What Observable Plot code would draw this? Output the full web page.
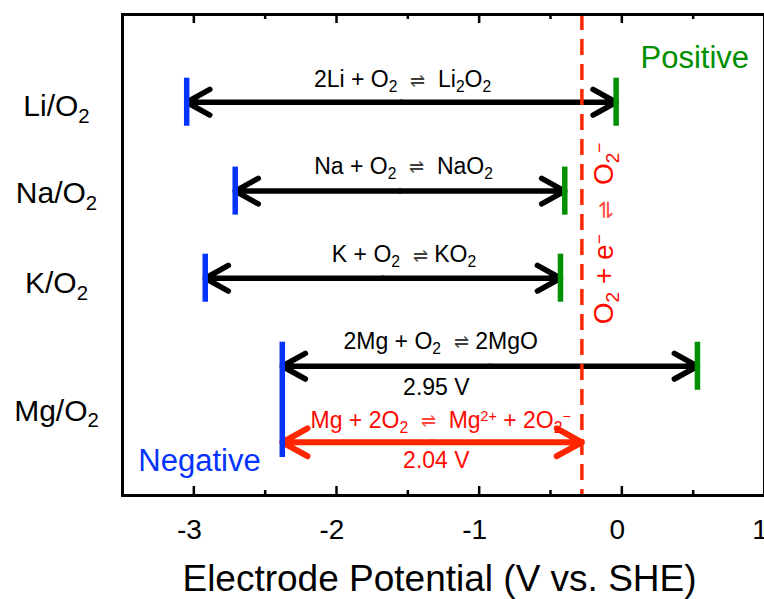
<!DOCTYPE html>
<html>
<head>
<meta charset="utf-8">
<script src="https://cdn.jsdelivr.net/npm/d3@7"></script>
<script src="https://cdn.jsdelivr.net/npm/@observablehq/plot@0.6"></script>
<style>
  html, body { margin: 0; padding: 0; background: #fff; }
</style>
</head>
<body>
<div id="chart"></div>
<script>
// ---------- data ----------
const couples = ["Li/O_{2}", "Na/O_{2}", "K/O_{2}", "Mg/O_{2}"];
const rows = [0, 1.01, 2, 3];                       // row index of each couple
const negPotential = [-3.05, -2.71, -2.92, -2.38];  // V vs. SHE (negative electrode)
const posPotential = [-0.04, -0.40, -0.43, 0.53];   // V vs. SHE (positive electrode)
const superoxidePotential = -0.28;                  // O2 + e- <=> O2-
const mgSuperoxideRow = 3.864;

const reactions = [
  "2Li + O_{2}  ⇌  Li_{2}O_{2}",
  "Na + O_{2}  ⇌  NaO_{2}",
  "K + O_{2}  ⇌ KO_{2}",
  "2Mg + O_{2}  ⇌ 2MgO",
  "2.95 V",
  "Mg + 2O_{2}  ⇌  Mg^{2+} + 2O_{2}^{−}",
  "2.04 V"
];
const reactionX = [-1.537, -1.53, -1.527, -1.27, -1.30, -1.27, -1.30];
const reactionY = [-0.17, 0.81, 1.818, 2.799, 3.322, 3.697, 4.152];
const reactionRed = [false, false, false, false, false, true, true];

const coupleLabelY = [0.157, 1.15, 2.17, 3.62];

const superoxideLabel = "O_{2} + e^{−}  ⇌  O_{2}^{−}";
const superoxideLabelPos = [-0.124, 1.49];
const positiveLabelPos = [0.131, -0.394];
const negativeLabelPos = [-3.389, 4.185];

const majorTicks = [-3, -2, -1, 0, 1];
const minorTicks = [-2.5, -1.5, -0.5, 0.5];
const xTitle = "Electrode Potential (V vs. SHE)";

// ---------- derived tables ----------
const blackArrows = couples.flatMap((c, i) => {
  const mid = (negPotential[i] + posPotential[i]) / 2;
  return [
    {x1: mid, x2: negPotential[i], y: rows[i]},
    {x1: mid, x2: posPotential[i], y: rows[i]}
  ];
});
const redMid = (negPotential[3] + superoxidePotential) / 2;
const redArrows = [
  {x1: redMid, x2: negPotential[3], y: mgSuperoxideRow},
  {x1: redMid, x2: superoxidePotential, y: mgSuperoxideRow}
];
const half = 0.273;
const blueBars = couples.map((c, i) => ({
  x: negPotential[i], y1: rows[i] - half,
  y2: i === 3 ? mgSuperoxideRow + 0.173 : rows[i] + half
}));
const greenBars = couples.map((c, i) => ({x: posPotential[i], y1: rows[i] - half, y2: rows[i] + half}));
const reactionTable = reactions.map((t, i) => ({t, x: reactionX[i], y: reactionY[i], red: reactionRed[i]}));
const coupleTable = couples.map((c, i) => ({c, y: coupleLabelY[i]}));

const BLUE = "#0433ff", GREEN = "#008f00", RED = "#ff2600", REDTXT = "#ff0a00";
const H = 599 - 14 - 104;

const plot = Plot.plot({
  width: 764,
  height: 599,
  marginLeft: 122,
  marginRight: 0,
  marginTop: 14,
  marginBottom: 104,
  style: {fontFamily: "'Liberation Sans', Arial, Helvetica, sans-serif", background: "#fff", color: "#000", overflow: "visible"},
  x: {domain: [-3.5, 1], axis: null},
  y: {domain: [-0.997, 4.469], reverse: true, axis: null},
  marks: [
    // inward ticks, top and bottom
    Plot.ruleX(majorTicks, {x: d => d, insetBottom: H - 9, strokeWidth: 2.5, stroke: "#000"}),
    Plot.ruleX(majorTicks, {x: d => d, insetTop: H - 9, strokeWidth: 2.5, stroke: "#000"}),
    Plot.ruleX(minorTicks, {x: d => d, insetBottom: H - 5, strokeWidth: 2.5, stroke: "#000"}),
    Plot.ruleX(minorTicks, {x: d => d, insetTop: H - 5, strokeWidth: 2.5, stroke: "#000"}),
    // arrows
    Plot.arrow(blackArrows, {x1: "x1", x2: "x2", y1: "y", y2: "y", stroke: "#000", strokeWidth: 5.5, headLength: 7.2, headAngle: 58}),
    Plot.arrow(redArrows, {x1: "x1", x2: "x2", y1: "y", y2: "y", stroke: RED, strokeWidth: 6, headLength: 7.2, headAngle: 58}),
    // superoxide potential
    Plot.ruleX([superoxidePotential], {x: d => d, stroke: RED, strokeWidth: 3.5, strokeDasharray: "16,9"}),
    // electrode bars
    Plot.ruleX(blueBars, {x: "x", y1: "y1", y2: "y2", stroke: BLUE, strokeWidth: 5.5}),
    Plot.ruleX(greenBars, {x: "x", y1: "y1", y2: "y2", stroke: GREEN, strokeWidth: 5.5}),
    // frame
    Plot.frame({stroke: "#000", strokeWidth: 3}),
    // reaction labels
    Plot.text(reactionTable.filter(d => !d.red), {x: "x", y: "y", text: "t", fontSize: 23, lineAnchor: "bottom", fill: "#000"}),
    Plot.text(reactionTable.filter(d => d.red), {x: "x", y: "y", text: "t", fontSize: 23, lineAnchor: "bottom", fill: REDTXT}),
    // couple labels
    Plot.text(coupleTable, {y: "y", text: "c", frameAnchor: "left", textAnchor: "middle", lineAnchor: "bottom", dx: -66, fontSize: 30, fill: "#000"}),
    // vertical superoxide label
    Plot.text([superoxideLabel], {x: superoxideLabelPos[0], y: superoxideLabelPos[1], text: d => d, rotate: -90, fontSize: 28, fill: REDTXT}),
    Plot.text(["Positive"], {x: positiveLabelPos[0], y: positiveLabelPos[1], text: d => d, textAnchor: "start", lineAnchor: "bottom", fontSize: 31, fill: GREEN}),
    Plot.text(["Negative"], {x: negativeLabelPos[0], y: negativeLabelPos[1], text: d => d, textAnchor: "start", lineAnchor: "bottom", fontSize: 31, fill: BLUE}),
    // x tick labels & title
    Plot.text(majorTicks, {x: d => d, text: d => String(d), frameAnchor: "bottom", lineAnchor: "bottom", dy: 43, dx: -4.5, fontSize: 28, fill: "#000"}),
    Plot.text([xTitle], {text: d => d, frameAnchor: "bottom", lineAnchor: "bottom", dy: 95, dx: -4, fontSize: 37, fill: "#000"})
  ]
});

document.getElementById("chart").appendChild(plot);

// rich text: _{sub}, ^{sup}, and a small ⇌
function richify(svg) {
  d3.select(svg).selectAll("text").each(function () {
    const t = this.textContent;
    if (!/[_^]\{|⇌/.test(t)) return;
    const fs = parseFloat(getComputedStyle(this).fontSize) || 20;
    const parts = t.split(/(_\{[^}]*\}|\^\{[^}]*\}|⇌)/).filter(s => s !== "");
    while (this.firstChild) this.removeChild(this.firstChild);
    let shift = 0;
    for (const p of parts) {
      let target = 0, size = null, str = p, op = null, fam = null;
      if (p.startsWith("_{")) { target = 0.22 * fs; size = 0.68 * fs; str = p.slice(2, -1); }
      else if (p.startsWith("^{")) { target = -0.3 * fs; size = 0.62 * fs; str = p.slice(2, -1); }
      else if (p === "⇌") { target = -0.02 * fs; size = 0.8 * fs; op = 0.75; fam = "'DejaVu Sans', sans-serif"; }
      str = str.replace(/ /g, "\u00a0");
      const ts = d3.select(this).append("tspan").text(str);
      if (Math.abs(target - shift) > 1e-6) ts.attr("dy", target - shift);
      if (size) ts.attr("font-size", size);
      if (op) ts.attr("fill-opacity", op);
      if (fam) ts.attr("font-family", fam).attr("font-weight", 200);
      shift = target;
    }
  });
}
richify(plot);
</script>
</body>
</html>
